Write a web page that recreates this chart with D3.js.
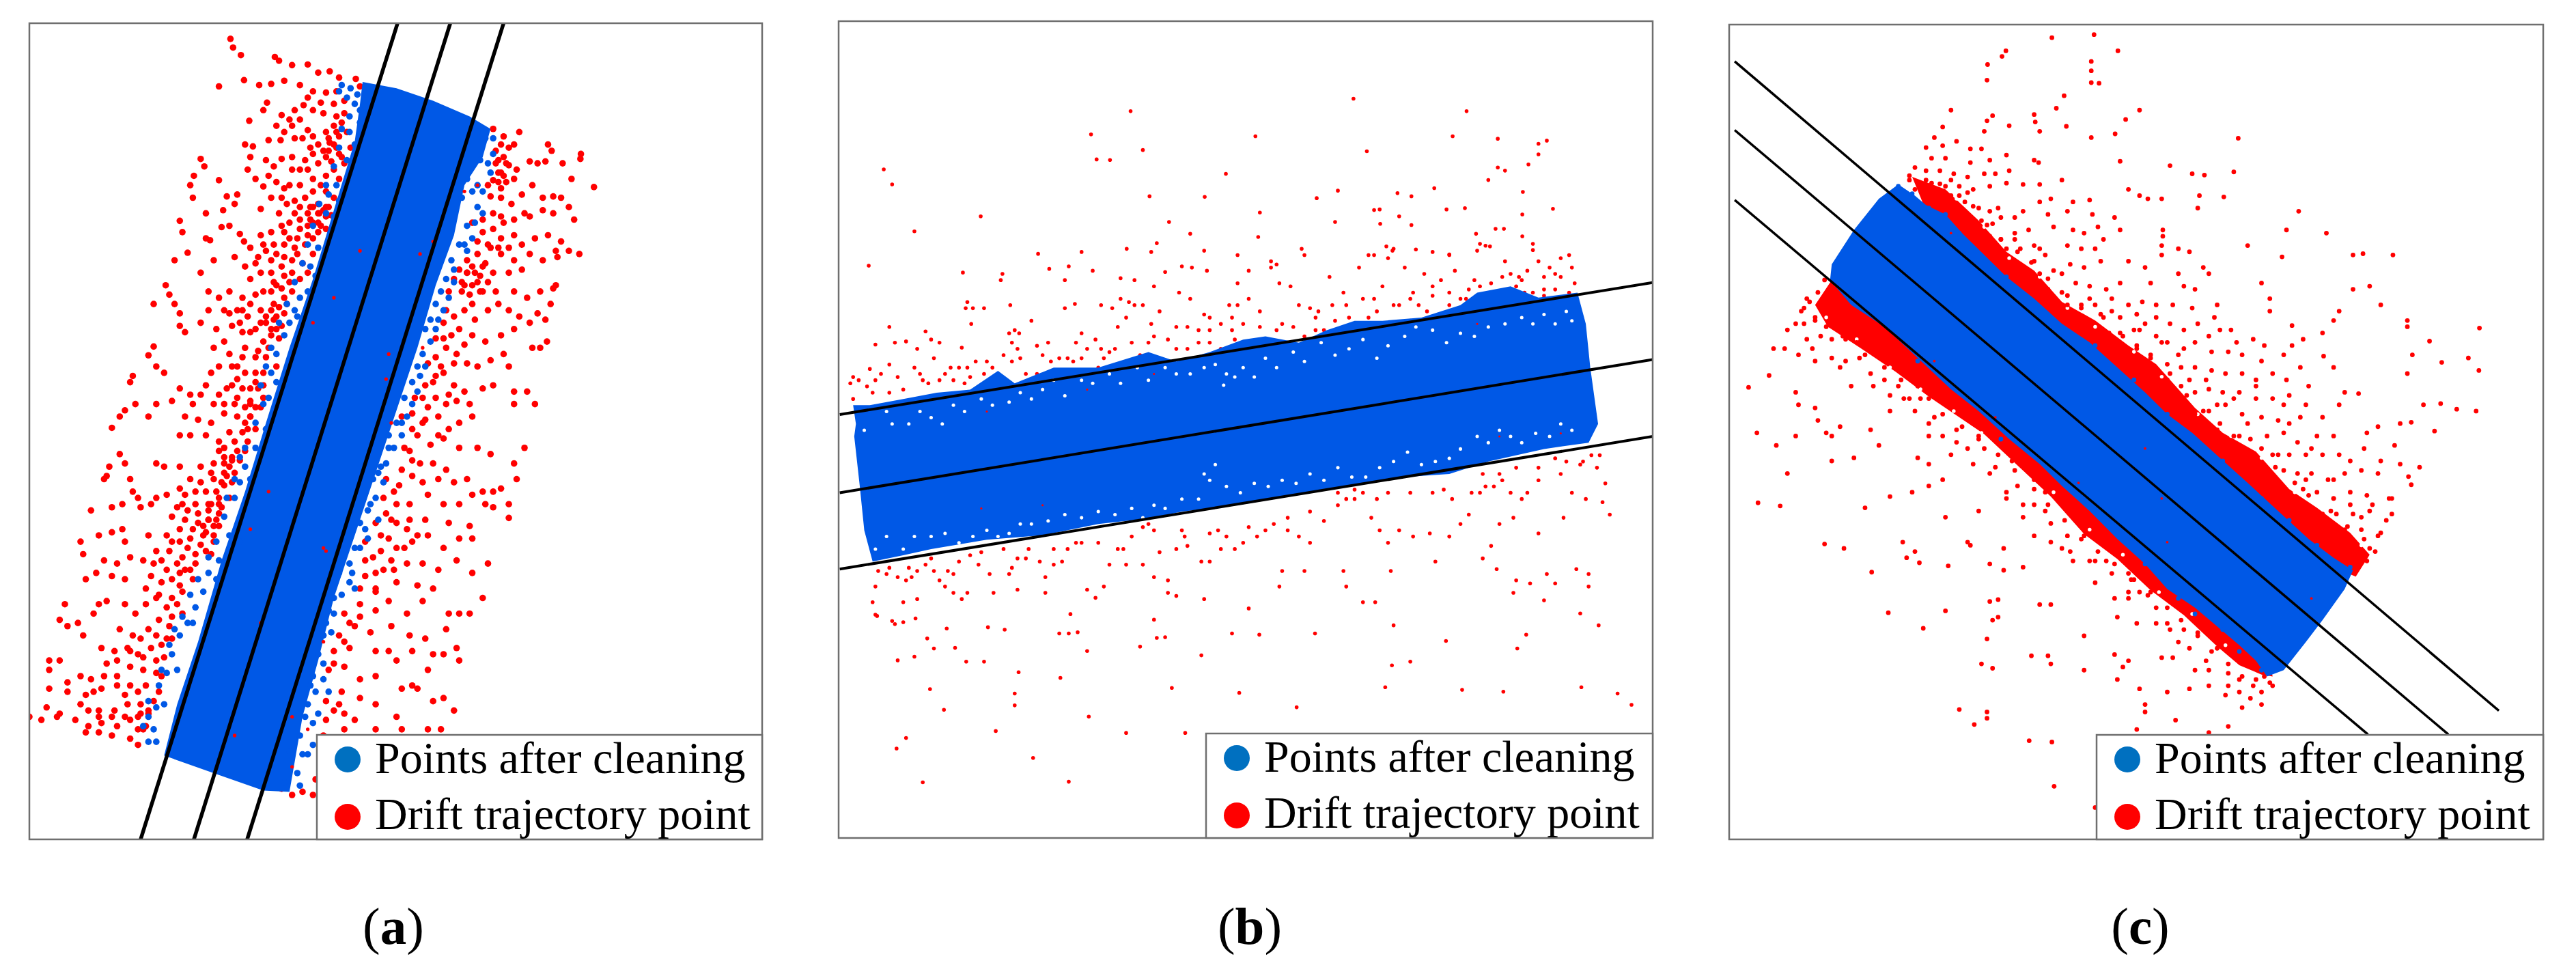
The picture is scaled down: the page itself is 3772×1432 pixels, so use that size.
<!DOCTYPE html>
<html><head><meta charset="utf-8">
<script src="https://cdn.jsdelivr.net/npm/d3@7"></script>
<style>html,body{margin:0;background:#fff}svg{display:block}text{font-family:"Liberation Serif",serif;fill:#000}</style>
</head><body><svg id="c" width="3772" height="1432"></svg>
<script>
// Values are hand-estimated readings from the picture, in each panel's own reading units.
// The source has thousands of overlapping dots: the lists are a hand-read subset, not a full recovery.
// cDense outlines the strips of panel c where the red dots merge and can't be separated; cHoles are white gaps read inside them.
const legendLabels=["Points after cleaning","Drift trajectory point"];
const panelLetters=["a","b","c"];
const aRed=[442,66,447,80,462,92,527,95,535,101,560,108,590,107,420,142,468,132,545,133,610,120,632,118,650,128,682,130,690,142,497,140,520,138,575,140,600,150,625,152,645,150,660,165,478,197,505,180,512,168,540,188,565,180,582,172,590,160,615,168,640,170,660,185,530,205,545,215,560,205,590,212,600,222,625,215,640,205,655,200,470,235,485,238,515,228,538,228,580,225,610,235,632,232,650,222,665,215,672,240,945,210,965,222,985,235,995,215,950,245,965,255,975,268,990,275,1015,262,1030,265,1050,235,1057,245,1113,250,1112,258,1078,265,1045,262,385,258,392,270,372,285,365,300,480,255,510,260,525,270,540,258,560,255,600,250,625,255,650,250,475,275,490,290,515,285,505,302,530,295,545,305,575,275,600,290,615,300,640,275,660,265,420,292,435,318,455,315,450,330,428,340,395,345,370,320,520,320,550,330,565,345,585,320,600,335,612,345,625,350,640,320,630,335,500,338,950,265,960,280,945,292,970,295,985,290,940,318,960,320,980,330,1000,315,1020,300,1040,320,1060,318,1075,320,1090,335,1100,355,1138,303,1095,290,1040,340,1005,345,985,355,1015,350,1060,345,960,350,345,357,350,375,395,385,403,388,360,408,335,420,460,378,468,390,500,380,520,375,540,365,555,385,575,370,590,365,610,360,635,348,625,370,600,385,585,395,565,400,545,395,530,410,510,405,490,425,450,415,425,367,440,365,410,420,385,440,560,420,580,425,600,410,540,430,520,440,590,440,905,360,925,375,945,370,960,385,985,380,1000,395,1025,385,1050,380,1075,390,1110,410,1090,405,1065,405,1068,415,940,400,915,410,895,420,880,435,905,430,930,425,960,410,985,420,1015,410,1040,420,1000,435,975,440,945,440,920,445,318,460,325,475,335,490,345,505,295,490,355,535,345,525,400,470,420,480,400,500,385,520,440,470,465,480,480,490,505,470,530,460,555,455,575,450,545,480,525,490,500,500,475,510,455,500,430,500,415,530,445,525,465,535,490,530,510,520,530,510,545,505,520,540,505,550,860,470,885,455,900,475,925,470,950,470,985,470,1010,480,1035,470,1060,465,1065,460,1030,505,1045,515,1055,490,870,510,855,500,890,500,910,515,935,500,955,490,975,500,995,510,1015,520,880,530,905,540,930,550,960,540,985,530,1020,560,1035,560,1048,550,295,558,285,572,315,600,300,590,255,605,250,615,345,625,365,635,385,635,420,590,445,590,465,575,495,565,510,575,530,590,470,600,445,620,420,635,395,620,465,625,490,615,505,600,480,645,505,640,430,650,450,650,370,650,330,645,835,575,855,560,875,570,895,585,915,590,940,580,965,570,975,590,850,600,830,615,870,620,890,630,925,625,945,620,810,640,835,640,855,650,875,645,900,650,985,630,1010,630,985,650,1025,650,240,660,230,670,215,688,260,650,285,670,300,650,355,670,380,675,405,680,430,665,455,670,480,670,500,655,440,695,465,695,490,690,475,710,420,710,395,700,365,700,345,700,300,745,315,750,345,750,230,730,240,745,430,735,455,725,410,745,440,750,770,670,790,665,815,675,840,670,860,690,880,680,905,670,800,700,825,715,850,705,880,720,915,720,940,730,985,745,1005,720,785,725,805,745,830,745,855,755,210,750,205,765,200,770,250,770,255,790,265,800,270,815,300,800,320,795,345,785,365,770,385,775,410,770,430,780,450,760,350,810,375,810,400,810,420,810,440,800,330,830,355,835,380,840,400,835,420,825,175,820,215,815,235,810,290,810,740,770,765,780,790,765,810,775,840,770,870,775,895,770,925,790,945,790,960,785,735,800,760,810,785,810,820,795,850,810,880,810,905,795,930,810,975,810,990,770,720,840,750,835,785,835,815,835,860,840,900,845,945,815,975,832,155,870,160,890,190,860,215,855,235,850,240,870,285,860,320,860,345,870,365,865,390,860,410,870,420,845,200,900,225,905,185,920,250,895,275,900,300,885,325,885,350,895,375,890,395,885,165,930,215,925,240,930,290,925,320,915,345,920,365,915,280,945,700,870,730,860,760,880,790,870,820,860,850,880,880,865,905,865,700,900,720,920,750,900,780,905,810,905,840,915,875,900,905,920,935,905,690,945,720,950,760,935,800,940,830,945,125,970,115,995,130,1005,150,1000,190,970,205,965,240,970,260,985,280,970,305,955,330,960,350,950,160,1020,180,985,230,1010,255,1020,285,1010,305,995,330,990,350,985,220,1045,195,1040,265,1050,290,1040,310,1035,660,985,690,970,720,980,745,965,780,985,810,965,860,985,880,985,900,985,925,960,650,1020,680,1005,710,1015,750,1005,785,1020,815,1025,855,1010,640,1045,670,1040,720,1045,745,1045,790,1045,830,1050,875,1040,95,1060,115,1060,95,1075,130,1095,155,1085,175,1090,205,1065,225,1060,250,1070,275,1075,300,1080,95,1105,130,1110,165,1115,195,1105,225,1100,250,1100,280,1100,305,1110,90,1135,115,1145,190,1140,220,1140,245,1130,270,1130,295,1125,630,1075,660,1070,690,1090,720,1085,760,1060,790,1100,820,1075,850,1050,880,1060,655,1110,690,1120,720,1130,770,1105,800,1105,850,1120,830,1125,640,1140,680,1155,760,1150,870,1140,57,1150,80,1155,110,1150,145,1155,170,1165,195,1160,225,1165,250,1155,275,1170,165,1175,190,1175,215,1180,250,1185,265,1195,660,1170,720,1170,770,1170,820,1170,845,1170,540,1265,560,1275,580,1270,600,1275];
const aRedNear=[600,180,620,185,645,190,575,195,555,195,565,225,595,240,620,245,645,240,655,255,585,260,610,265,635,262,560,275,590,275,625,285,650,290,555,300,575,300,600,310,625,310,540,320,565,325,575,335,590,345,610,330,620,340,535,345,555,360,575,355,595,355,610,375,590,380,570,385,545,375,525,395,505,395,480,400,495,415,520,420,545,415,570,410,560,440,545,445,525,455,500,440,480,450,470,430,560,470,540,465,520,470,490,475,465,500,440,505,510,510,530,530,500,520,480,535,460,520,515,560,490,575,470,560,455,590,440,570,410,560,430,550,405,600,490,600,505,620,480,625,455,610,435,625,410,650,470,655,490,655,455,640,475,690,450,710,430,720,470,725,445,740,420,725,405,760,385,750,435,765,415,790,395,790,375,790,355,795,420,800,400,820,380,825,360,820,340,815,410,845,390,845,370,850,345,850,330,870,385,875,405,890,360,880,340,905,310,900,295,905,375,905,355,915,330,930,310,935,345,940,370,930,300,960,320,975,340,970,325,1005,300,1020,270,1025,245,1040,320,1025,300,1060,275,1055,250,1045,225,1085,200,1085,180,1110,155,1130,240,1115,265,1110,285,1145,265,1150,240,1150,215,1150,190,1150,170,1140,960,235,975,240,955,295,935,300,960,305,925,355,945,345,965,360,915,390,935,395,955,400,975,400,895,440,915,455,935,455,870,450,885,470,905,490,850,520,865,540,890,555,850,545,835,545,870,585,845,590,820,585,815,620,795,640,835,605,860,635,820,655,790,690,810,680,840,700,775,720,790,740,770,755,755,790,740,825,760,840,780,850,800,860,775,880,745,865,730,885,715,895,755,915,735,915,700,925,720,945,690,990,670,1000,660,1030,640,1065,625,1125,650,1130,660,1145,625,1155,620,1180,605,1250,595,335,610,345,625,335,600,360,615,365,630,225,645,215,640,235,630,245,520,500,535,495,550,490,525,515,540,525,520,530,535,545,405,810,425,815,400,835,415,835,395,855,410,860,430,745,445,735,460,740,430,760,445,775,425,775,270,1145,285,1140,280,1165,265,1170,955,260,970,265,965,285,955,280,895,440,910,440,925,430,890,460,905,460,920,470,315,1055,330,1025,310,1085,480,650,495,625,480,670,470,680];
const aBlue=[650,150,665,160,680,170,690,180,700,165,690,200,670,215,680,235,665,260,670,280,645,300,630,315,650,325,625,345,640,350,610,400,595,430,605,445,590,470,575,480,565,500,555,520,570,510,545,540,530,570,520,600,530,615,515,640,525,660,510,690,490,720,470,750,460,775,480,770,450,800,470,830,440,860,460,870,420,900,400,920,415,930,390,950,375,975,360,1000,345,1020,370,1000,330,1050,320,1080,340,1075,300,1135,285,1150,295,1170,285,1190,315,1130,915,215,930,225,920,260,935,265,895,290,905,310,885,320,915,335,925,345,895,365,905,385,880,395,865,420,855,450,870,455,845,470,835,490,825,515,815,530,825,550,810,570,800,590,790,615,775,640,790,650,760,680,745,700,770,700,755,720,740,745,715,770,735,775,710,810,725,835,700,850,690,880,670,905,650,920,670,935,655,955,640,985,625,1000,620,1020,610,1050,600,1085,620,1090,630,1110,590,1130,600,1160,575,1180,590,1210,555,1205,570,1240,545,1255,655,140,672,145,685,155,670,190,655,210,650,240,640,270,625,300,612,330,600,365,590,395,580,425,565,455,550,490,535,520,520,560,510,590,500,620,505,650,490,680,470,720,460,735,450,770,435,800,430,830,415,870,400,895,380,930,365,955,350,990,335,1010,325,1035,310,1075,305,1100,285,1125,275,1165,300,1190,945,225,945,250,940,280,915,300,925,310,910,360,890,395,895,405,870,435,860,480,850,500,840,515,835,530,815,590,805,605,800,630,780,670,770,680,745,720,730,750,725,760,720,800,705,820,690,840,705,865,680,880,675,920,680,945,640,960,630,980,605,1000,635,1015,620,1065,605,1110,595,1100,610,1145,585,1150,600,1195,580,1210,575,1260];
const aBand=[695,135,760,145,830,165,900,190,940,210,925,255,890,300,870,380,835,460,800,560,760,660,720,760,680,860,640,960,610,1060,580,1150,555,1270,505,1268,420,1243,315,1212,340,1130,380,1030,425,900,470,790,510,680,555,560,600,450,640,340,680,230,690,170];
const aSpecks=[690,405,830,390,805,410,640,480,745,570,600,520,515,790,740,610,500,1000,620,880,625,885,560,1150,450,1180,890,310,915,300,810,560,750,680,620,1030,590,1170,560,1230,480,850];
const aLines=[[762,41,270,1346],[863,41,372,1346],[965,41,474,1346]];
const bRed=[958,160,558,180,1161,180,487,217,782,220,1136,220,1217,224,1305,227,1290,232,580,242,982,244,1290,249,497,257,521,258,115,273,729,280,1217,270,1230,275,1272,265,1200,290,130,297,930,307,1262,309,1103,303,592,316,691,317,892,319,1037,311,1062,316,289,348,790,342,1125,337,1158,335,1316,336,995,338,1005,337,1040,348,1261,345,925,357,1006,360,627,357,170,372,665,376,1062,362,1213,368,1228,368,787,381,1178,376,1261,380,1185,392,1203,396,605,391,551,400,595,405,470,405,392,408,1280,392,1280,402,690,403,750,410,1017,396,1028,403,985,410,1070,401,1100,405,1130,409,1180,403,185,1253,447,1252,383,1214,138,1199,155,1182,316,1171,550,1174,656,1174,483,1148,856,1133,1457,1129,1432,1111,223,1137,350,1130,350,1111,198,1104,632,1102,753,1110,1015,1101,1153,1105,1227,1108,1367,1101,432,1086,357,1077,1027,1066,1060,1060,263,1060,295,1060,140,1058,170,1052,685,1050,480,1043,575,1036,243,1038,205,1039,1252,1039,193,1023,1124,1027,1268,1017,605,1022,620,1021,430,1015,447,1015,463,1013,740,1015,789,1017,889,1015,332,1009,302,1005,228,1007,1030,1002,1398,1002,600,993,130,995,150,997,172,991,103,987,450,984,1365,983,60,605,55,615,70,610,90,592,100,553,125,525,88,427,60,640,85,620,95,630,110,600,125,585,135,550,155,548,125,630,150,625,170,590,190,532,200,545,205,575,215,550,185,610,175,560,195,615,215,610,225,600,240,610,255,558,262,495,265,485,275,495,295,495,257,438,328,440,325,450,342,490,272,520,250,590,265,590,280,580,295,600,310,590,270,605,340,535,350,530,358,535,345,550,355,560,380,515,345,580,360,575,390,555,410,550,400,570,415,580,390,600,412,432,440,450,447,428,490,435,458,488,440,495,505,490,525,495,470,535,495,545,460,550,480,560,445,575,455,580,430,600,505,560,520,565,535,525,550,510,565,490,580,490,540,480,555,485,595,520,610,500,590,550,610,575,575,570,545,590,500,590,565,450,540,447,600,460,620,437,650,428,668,430,695,435,645,470,665,480,690,505,700,510,735,490,750,490,640,525,660,525,680,550,720,520,740,530,700,550,660,560,625,545,720,560,770,480,790,500,745,545,770,435,750,455,810,420,820,425,865,400,870,410,810,430,825,455,845,460,860,490,880,495,895,500,915,445,940,470,945,490,830,520,850,525,870,540,890,510,905,530,925,515,975,480,985,510,995,480,1010,460,1020,415,1030,400,968,430,995,410,1040,490,1050,430,1065,470,1075,490,1085,440,1100,460,1115,450,1130,410,1140,435,1060,515,1090,500,1110,505,1130,490,1150,480,1165,465,1175,450,1195,490,1165,520,1145,530,1110,530,1075,530,1045,530,1020,525,1205,455,1225,445,1240,440,1250,460,1265,470,1290,420,1300,445,1310,430,1320,440,1330,415,1345,410,1350,430,1355,455,1345,470,1280,470,1255,445,1230,420,1195,395,1270,435,1320,465,1300,475,100,940,95,965,105,915,125,910,140,925,155,930,165,925,175,915,190,905,205,915,215,930,225,940,240,950,255,960,265,950,135,1000,150,965,175,960,100,985,230,915,250,900,270,890,285,905,305,920,312,950,345,910,355,895,375,880,395,900,405,925,420,905,435,900,445,880,460,870,480,945,495,958,510,940,520,905,535,880,545,880,405,950,355,945,340,920,550,905,580,845,590,840,600,925,625,930,610,885,640,880,660,875,625,950,640,955,685,900,700,900,690,960,655,860,580,905,700,855,715,850,730,860,745,880,760,870,785,860,800,850,815,840,840,850,860,860,880,870,830,915,870,915,825,940,770,975,905,835,930,790,945,800,960,785,975,790,945,940,940,915,990,830,1005,850,1020,790,1040,850,1020,870,1025,915,975,965,997,965,1065,860,1100,790,1095,855,1105,900,1135,800,1130,860,1150,840,1165,825,1185,790,1195,780,1205,875,1220,840,1190,895,1215,912,1225,770,1240,790,1270,790,1290,855,1245,830,1250,930,1275,935,1245,950,1305,920,1320,935,1300,962,1335,830,1350,790,1358,912,1380,920,1380,940,1320,735,1340,740,1365,745,1385,730,1400,730,1410,775,1405,805,1418,825,1375,800,1290,770,1260,800,1220,760,1190,760];
const bRedNear=[100,610,140,605,180,600,235,590,260,615,300,580,330,570,370,600,430,575,470,575,510,575,530,560,560,550,600,540,640,560,680,530,700,530,740,510,760,520,790,525,820,530,890,530,920,490,950,510,1000,500,1030,490,1060,480,1100,475,1130,470,1160,480,1185,460,1230,465,1260,450,1300,465,1330,445,120,920,160,910,200,895,240,920,290,885,330,880,370,895,420,880,470,870,500,870,560,860,600,850,650,850,720,880,770,845,840,830,880,820,930,810,960,800,1000,800,1060,790,1120,785,1170,790,1210,780,1250,750,1290,750,1330,760,1370,740,1395,750];
const bBlue=[];
const bBand=[65,680,60,650,90,650,150,640,210,630,270,625,320,595,350,615,420,590,500,590,590,565,640,580,700,565,760,545,800,540,860,550,910,530,960,515,1010,515,1080,510,1150,490,1180,470,1240,460,1290,478,1360,470,1375,520,1383,590,1397,680,1380,710,1300,720,1200,740,1130,760,1050,765,950,780,850,795,750,810,650,820,600,830,500,840,400,858,300,865,200,880,150,890,95,900,80,850,72,780,62,700];
const bGaps=[120,660,160,680,200,670,240,650,290,640,310,650,380,640,420,610,470,610,520,600,570,590,640,600,690,590,730,600,725,618,760,590,800,575,850,565,900,550,950,560,1000,575,1050,540,1100,530,1150,535,1200,525,1260,510,1300,505,1340,500,100,880,150,880,200,860,250,870,300,850,340,855,380,840,440,825,500,820,560,815,600,810,650,800,700,770,730,780,780,775,830,770,880,760,930,750,980,765,1030,740,1080,745,1130,735,1180,700,1220,690,1260,710,1310,700,1350,690,80,690,130,680,180,660,220,680,260,660,340,645,360,630,400,625,440,635,490,615,540,615,590,610,620,590,665,600,710,585,745,605,780,605,820,590,870,580,925,570,975,545,1020,555,1070,525,1125,550,1175,540,1230,520,1280,520,1320,520,1350,515,120,860,170,860,225,855,275,860,320,860,360,840,410,835,470,830,530,825,580,830,620,815,680,800,690,760,710,745,755,790,805,780,855,775,905,770,955,765,1005,750,1055,725,1105,740,1150,720,1200,710,1240,700,1285,695,1330,680];
const bSpecks=[300,660,480,625,600,600,1180,520,1330,695,1220,700,290,815,400,810];
const bLines=[[36,665,1495,454],[36,790,1495,577],[36,912,1495,700]];
const cRed=[622,62,698,57,741,83,539,83,532,92,506,105,505,130,693,100,693,115,693,134,707,135,644,155,630,175,780,178,755,193,515,187,440,178,505,195,590,185,592,197,545,203,600,212,648,204,500,212,736,216,693,222,958,223,425,205,410,222,395,238,425,235,450,228,475,240,495,240,405,255,430,255,475,262,510,258,540,250,590,258,598,262,745,260,835,267,950,277,875,280,897,282,375,270,395,275,420,275,445,280,470,285,500,280,520,280,545,275,365,290,385,295,405,295,430,300,455,300,480,305,510,300,540,295,570,297,600,297,640,290,760,305,375,305,395,315,415,320,440,315,465,325,490,335,780,315,795,320,820,320,932,317,888,315,885,335,660,325,525,335,570,340,600,325,620,320,445,340,470,350,495,355,515,360,530,350,555,350,580,370,615,345,650,340,690,322,695,345,735,350,1067,340,1045,370,1117,375,975,395,745,370,822,370,822,380,820,395,470,370,490,375,510,380,530,385,555,385,590,395,625,365,660,370,680,375,705,365,515,400,540,400,565,400,590,420,610,410,650,395,675,400,700,400,715,385,850,400,870,405,820,410,1037,413,1165,410,1183,408,1237,410,545,425,570,430,600,440,625,435,655,425,680,430,710,420,850,440,895,430,905,440,760,420,790,430,1000,455,1165,465,1195,460,1015,480,1215,490,565,455,590,460,615,465,640,470,665,455,690,460,720,465,745,455,800,455,860,460,880,465,920,490,1015,500,600,480,620,490,650,490,675,495,700,490,730,480,760,490,785,485,810,490,840,490,875,495,915,510,945,530,985,545,1005,555,1055,523,1140,500,1130,515,1110,535,1075,545,1055,555,1263,515,1263,525,1393,527,1303,548,1272,570,1373,575,1325,582,1392,595,1263,600,1112,572,1130,590,660,510,690,520,715,510,745,510,775,505,810,510,835,520,860,530,885,520,905,540,925,530,955,550,690,540,725,535,750,540,780,530,810,540,830,550,860,560,880,550,910,565,940,565,965,570,1000,580,1040,570,1070,590,775,560,800,575,830,585,855,590,880,590,910,595,935,600,965,600,990,610,1020,600,1045,610,1085,620,1150,630,1175,632,1292,650,1323,648,1352,657,1387,660,800,610,830,610,855,620,880,630,905,625,930,630,960,630,990,640,1020,640,1050,635,1080,650,1110,670,1140,650,835,640,860,650,880,665,905,660,935,650,965,665,1000,670,1030,675,1050,680,1070,670,1100,700,1130,700,1190,695,1210,685,1250,680,1270,678,1312,692,890,680,920,690,950,700,980,705,1010,700,1040,695,1065,710,935,715,965,725,990,735,1020,730,1050,730,1080,730,1110,730,1140,730,1160,740,1185,720,1215,740,1240,715,985,750,1010,760,1040,755,1065,760,1090,760,1120,770,1150,760,1180,755,1210,760,1250,745,1265,765,1270,778,1285,750,1030,780,1050,790,1075,785,1100,790,1130,800,1160,790,1190,795,1230,800,1060,815,1085,820,1110,825,1135,825,1165,825,1195,820,1235,825,1100,845,1125,855,1150,850,1180,850,1215,855,1115,870,1140,875,1170,875,1195,880,1150,895,1175,905,1190,900,1090,850,1130,880,1110,860,212,450,200,470,185,485,175,495,160,520,145,530,215,480,230,490,250,505,265,520,195,515,175,520,205,540,180,545,225,545,245,540,270,550,290,540,165,570,120,560,140,560,195,580,225,575,250,580,275,575,300,565,320,570,295,600,340,585,365,600,345,620,75,622,112,603,160,630,165,650,195,655,200,675,90,695,125,715,160,700,215,695,240,685,225,700,295,690,310,715,225,740,265,735,145,760,92,807,132,812,330,635,355,640,380,620,400,640,420,640,375,660,400,680,440,650,465,660,480,680,450,690,425,700,380,735,400,745,440,730,370,790,330,797,285,815,400,780,425,770,490,700,515,690,530,710,500,720,550,740,520,750,480,745,560,780,540,790,590,770,610,790,630,780,590,810,610,820,640,800,660,810,212,873,247,880,297,918,353,870,375,885,360,895,383,903,435,908,475,875,535,880,490,820,430,830,570,830,470,870,510,905,535,915,570,910,590,860,620,870,655,885,680,830,700,850,720,840,745,870,770,880,795,905,820,925,700,900,730,920,765,930,780,950,800,950,840,950,870,975,890,985,910,995,620,970,600,970,525,962,510,965,430,980,327,983,390,1008,680,860,660,900,700,935,735,960,760,960,740,990,775,1000,810,975,835,1010,860,1010,885,1020,920,1040,945,1050,965,1040,985,1060,505,1025,525,990,515,995,680,1020,585,1052,615,1052,735,1050,760,1060,495,1065,515,1072,620,1065,680,1075,820,1055,840,1055,880,1075,905,1075,940,1080,960,1090,985,1100,1005,1085,780,1105,830,1110,870,1105,905,1100,935,1115,965,1135,1000,1110,750,1070,740,1090,790,1130,790,1142,845,1155,455,1138,505,1142,482,1162,505,1152,775,1170,940,1165,905,1175,581,1188,622,1190,626,1261,700,1295];
const cRedNear=[440,290,470,310,510,340,555,375,600,400,640,440,690,480,730,500,770,530,820,550,870,610,920,650,975,680,1030,730,1080,770,1130,800,1180,830,1210,860,1225,835,1235,800,1200,810,1160,810,1130,770,1090,720,1040,650,990,620,950,640,900,610,850,570,790,520,170,500,190,560,240,590,300,620,320,610,365,640,410,670,450,710,510,760,570,810,620,840,650,860,690,900,720,900,760,950,810,1000,850,1030,900,1060,940,1100,980,1120,1020,1100,1000,1130,960,1110,870,1040,830,1000,760,920,640,880,540,800,470,720,400,700,330,660,260,620,365,283,395,290,420,296,455,315,480,332,505,362,530,385,560,405,585,422,615,448,650,475,675,490,710,505,745,535,775,555,800,570,835,600,865,635,895,660,925,680,960,700,1000,720,1025,750,1060,775,1085,795,1125,820,1155,845,1185,865,1205,885,180,480,195,510,215,525,250,545,285,570,320,590,350,610,385,640,425,665,460,685,490,705,525,730,555,755,590,785,615,810,645,835,675,865,705,885,735,905,770,930,795,955,830,975,855,995,885,1015,910,1045,940,1065,965,1085,990,1090,1015,1095];
const cBlue=[345,300,370,312,400,335,430,345,455,375,540,445,640,525,700,555,770,610,830,665,930,740,1000,800,1050,835,1100,875,1160,910,380,580,530,705,690,815,790,905,850,960,880,985,930,1010,960,1045,1000,1075];
const cBand=[345,297,375,315,395,330,430,345,460,375,500,410,540,445,590,480,640,520,690,550,740,590,790,630,830,665,875,695,925,735,975,775,1030,820,1085,865,1130,895,1165,915,1150,945,1110,995,1080,1030,1040,1075,1010,1085,990,1060,960,1035,920,1005,880,975,830,945,790,905,740,865,690,820,640,780,600,745,545,705,490,660,440,625,380,575,320,525,260,490,222,450,225,425,265,370,310,320];
const cDense=[[370,285,430,305,490,355,540,405,590,435,640,485,700,515,760,555,810,585,880,655,930,695,990,725,1050,785,1100,815,1160,855,1195,890,1170,925,1100,900,900,760,600,510,400,350],[225,450,195,490,218,525,270,555,340,597,400,637,450,667,500,697,560,747,620,797,680,857,740,897,800,947,860,987,920,1037,960,1067,1000,1082,1020,1085,1000,1000,700,780,400,560,260,470]];
const cHoles=[450,320,500,365,545,415,600,445,650,495,700,525,770,565,820,605,885,665,945,700,1000,735,1060,790,1110,825,1180,875,215,510,270,545,330,590,385,625,445,660,495,695,570,760,625,790,690,850,750,890,815,950,875,985,935,1035];
const cSpecks=[410,580,520,670,670,775,820,800,790,720,1090,960,830,870,440,375,610,490];
const cLines=[[50,100,1428,1140],[50,210,1337,1178],[50,322,1192,1178]];

const panels=[
 {letter:0,red:aRed.concat(aRedNear),dense:[],holes:[],blue:aBlue,band:aBand,gaps:[],specks:aSpecks,lines:aLines,dom:[57,1460,41,1346],box:[43,1116,34,1229],legX:464,labelX:576,r:4.8,lw:5.5},
 {letter:1,red:bRed.concat(bRedNear),dense:[],holes:[],blue:bBlue,band:bBand,gaps:bGaps,specks:bSpecks,lines:bLines,dom:[34,1495,36,1342],box:[1228,2420,31,1227],legX:1766,labelX:1830,r:2.8,lw:4},
 {letter:2,red:cRed.concat(cRedNear),dense:cDense,holes:cHoles,blue:cBlue,band:cBand,gaps:[],specks:cSpecks,lines:cLines,dom:[40,1508,41,1346],box:[2532,3724,36,1229],legX:3070,labelX:3134,r:3.4,lw:3.5}
];
const pairs=a=>d3.range(0,a.length,2).map(i=>[a[i],a[i+1]]);
const svg=d3.select("#c");
panels.forEach((p,i)=>{
 const x=d3.scaleLinear().domain(p.dom.slice(0,2)).range(p.box.slice(0,2));
 const y=d3.scaleLinear().domain(p.dom.slice(2,4)).range(p.box.slice(2,4));
 const [x0,x1,y0,y1]=p.box;
 svg.append("clipPath").attr("id","clip"+i).append("rect").attr("x",x0).attr("y",y0).attr("width",x1-x0).attr("height",y1-y0);
 const g=svg.append("g").attr("clip-path",`url(#clip${i})`);
 const dots=(data,cls,col,r)=>g.selectAll("circle."+cls).data(pairs(data)).join("circle").attr("class",cls).attr("cx",d=>x(d[0])).attr("cy",d=>y(d[1])).attr("r",r).attr("fill",col);
 const outline=d3.line().x(d=>x(d[0])).y(d=>y(d[1])).curve(d3.curveLinearClosed);
 p.dense.forEach(z=>g.append("path").attr("d",outline(pairs(z))).attr("fill","#ff0000"));
 dots(p.holes,"hole","#ffffff",p.r*0.8);
 dots(p.red,"red","#ff0000",p.r);
 g.append("path").attr("d",outline(pairs(p.band))).attr("fill","#0058e6");
 dots(p.blue,"blue","#0058e6",p.r);
 dots(p.gaps,"gap","#ffffff",p.r*0.9);
 dots(p.specks,"speck","#ff0000",p.r*0.55);
 g.selectAll("line").data(p.lines).join("line").attr("x1",d=>x(d[0])).attr("y1",d=>y(d[1])).attr("x2",d=>x(d[2])).attr("y2",d=>y(d[3])).attr("stroke","#000").attr("stroke-width",p.lw);
 svg.append("rect").attr("x",x0).attr("y",y0).attr("width",x1-x0).attr("height",y1-y0).attr("fill","none").attr("stroke","#6f6f6f").attr("stroke-width",2.5);
 const lg=svg.append("g").attr("transform",`translate(${p.legX},${y1-153})`);
 lg.append("rect").attr("width",x1-p.legX).attr("height",153).attr("fill","#fff").attr("stroke","#6f6f6f").attr("stroke-width",2.5);
 legendLabels.forEach((t,k)=>{
  lg.append("circle").attr("cx",45).attr("cy",36+k*84).attr("r",19).attr("fill",k?"#ff0000":"#0070c0");
  lg.append("text").attr("x",85).attr("y",56+k*82).attr("font-size",66).text(t);
 });
 const lab=svg.append("text").attr("x",p.labelX).attr("y",1382).attr("text-anchor","middle").attr("font-size",77);
 lab.append("tspan").text("(");
 lab.append("tspan").attr("font-weight","bold").text(panelLetters[p.letter]);
 lab.append("tspan").text(")");
});
</script></body></html>
